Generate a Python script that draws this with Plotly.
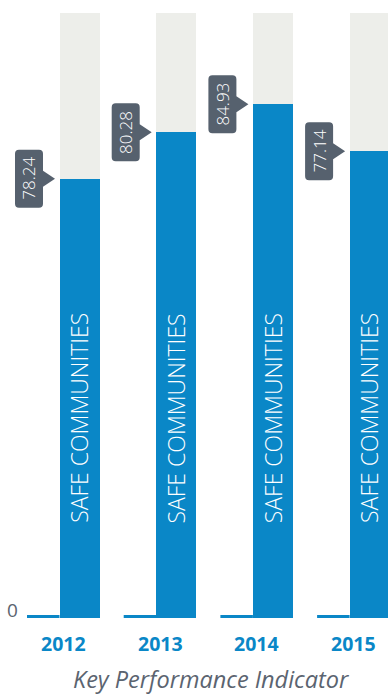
import plotly.graph_objects as go

# ---- data ----
years = ["2012", "2013", "2014", "2015"]
value_labels = ["78.24", "80.28", "84.93", "77.14"]
bar_heights = [72.6, 80.28, 84.93, 77.14]   # heights as drawn in the picture
max_value = 100
category_label = "SAFE COMMUNITIES"
axis_title = "Key Performance Indicator"
zero_label = "0"

# ---- style ----
BLUE = "#0a87c7"
GREY_BG = "#edeeea"
BOX = "#56616e"
TEXT_GREY = "#5b6470"
FONT = "Open Sans"

W, H = 388, 695
TOP, BOTTOM = 13, 77
SPACING_PX = 96.7
FIRST_CENTER_PX = 79.5
BAR_PX = 40

xs = list(range(len(years)))
x0 = -FIRST_CENTER_PX / SPACING_PX
x1 = x0 + W / SPACING_PX
bar_w = BAR_PX / SPACING_PX

fig = go.Figure()
fig.add_trace(go.Bar(x=xs, y=[max_value] * len(xs), width=bar_w,
                     marker=dict(color=GREY_BG, line=dict(width=0)),
                     hoverinfo="skip", showlegend=False))
fig.add_trace(go.Bar(x=xs, y=bar_heights, width=bar_w,
                     marker=dict(color=BLUE, line=dict(width=0)),
                     hoverinfo="skip", showlegend=False))

shapes = []
annotations = []

callout_path = ("M -60.5,29 L -40.5,29 Q -36.5,29 -36.5,25 L -36.5,8 L -24.5,0 "
                "L -36.5,-8 L -36.5,-25 Q -36.5,-29 -40.5,-29 L -60.5,-29 "
                "Q -64.5,-29 -64.5,-25 L -64.5,25 Q -64.5,29 -60.5,29 Z")

for i, (yr, h, lab) in enumerate(zip(years, bar_heights, value_labels)):
    # small baseline segment left of each bar
    shapes.append(dict(type="rect", xref="x", yref="y",
                       xsizemode="pixel", ysizemode="pixel",
                       xanchor=i, yanchor=0,
                       x0=-52.5, x1=-BAR_PX / 2, y0=0, y1=3,
                       fillcolor=BLUE, line=dict(width=0), layer="above"))
    # callout box with pointer
    shapes.append(dict(type="path", xref="x", yref="y",
                       xsizemode="pixel", ysizemode="pixel",
                       xanchor=i, yanchor=h, path=callout_path,
                       fillcolor=BOX, line=dict(width=0), layer="above"))
    annotations.append(dict(x=i, y=h, xref="x", yref="y", text=lab,
                            showarrow=False, textangle=-90, xshift=-50.5,
                            xanchor="center", yanchor="middle",
                            font=dict(family=FONT, size=17, color="white", weight=300)))
    # vertical category label inside bar
    annotations.append(dict(x=i, y=33.0, xref="x", yref="y", text=category_label,
                            showarrow=False, textangle=-90,
                            xanchor="center", yanchor="middle",
                            font=dict(family=FONT, size=23, color="white", weight=300)))
    # year label
    annotations.append(dict(x=i, y=0, xref="x", yref="paper", text=f"<b>{yr}</b>",
                            showarrow=False, xshift=-16, yshift=-25,
                            xanchor="center", yanchor="middle",
                            font=dict(family=FONT, size=19.5, color=BLUE)))

annotations.append(dict(x=12 / W, y=0, xref="paper", yref="y", text=zero_label,
                        showarrow=False, yshift=8.5, xanchor="center", yanchor="middle",
                        font=dict(family=FONT, size=19, color=TEXT_GREY)))
annotations.append(dict(x=211 / W, y=0, xref="paper", yref="paper", text=axis_title,
                        showarrow=False, yshift=-61, xanchor="center", yanchor="middle",
                        borderpad=0,
                        font=dict(family=FONT, size=23.5, color=TEXT_GREY, style="italic")))

fig.update_layout(
    width=W, height=H,
    margin=dict(l=0, r=0, t=TOP, b=BOTTOM, pad=0),
    barmode="overlay", bargap=0,
    paper_bgcolor="white", plot_bgcolor="white",
    xaxis=dict(range=[x0, x1], visible=False, fixedrange=True),
    yaxis=dict(range=[0, max_value], visible=False, fixedrange=True),
    shapes=shapes, annotations=annotations,
    showlegend=False,
)

fig.write_html("out.html", config={"displayModeBar": False})
